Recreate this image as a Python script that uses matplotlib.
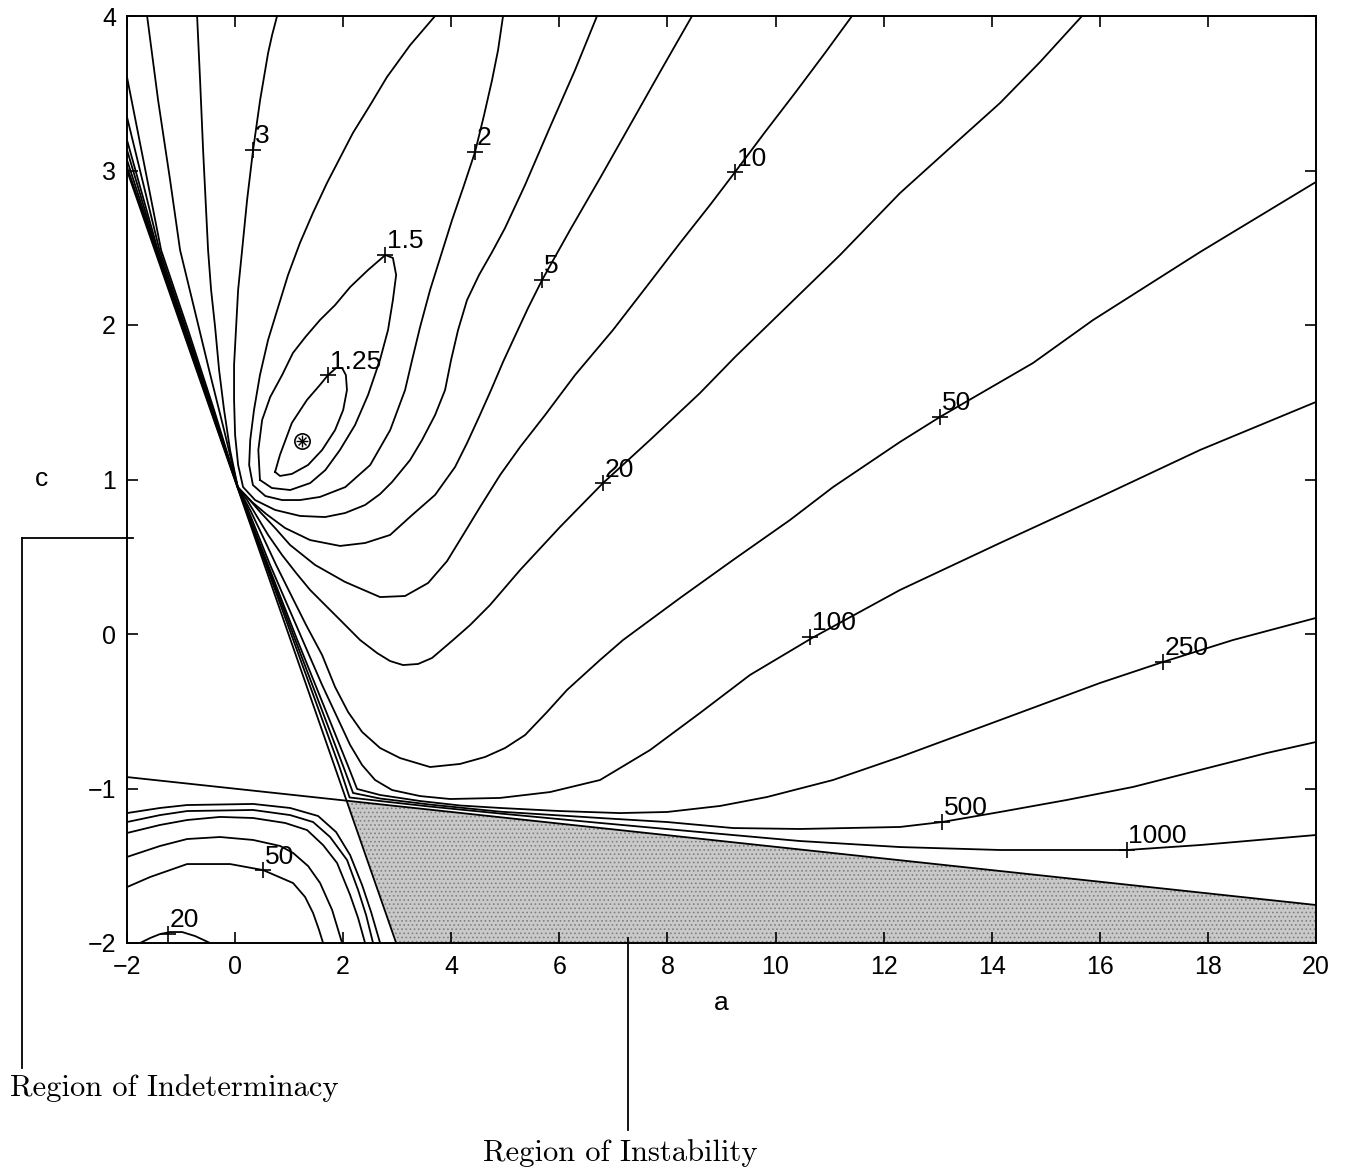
import matplotlib
matplotlib.use("Agg")
import matplotlib.pyplot as plt
from matplotlib.lines import Line2D

plt.rcParams["font.family"] = ["Liberation Sans", "DejaVu Sans"]
plt.rcParams["hatch.linewidth"] = 0.7

# contour traces, as (a, c) pairs.
# every open contour bunches up at P ~ (0.05, 0.95)

lvl125_a = [0.74, 0.83, 1.05, 1.33, 1.57, 1.72, 1.87, 1.98, 2.05, 2.07, 2.00, 1.85, 1.61, 1.35, 1.05, 0.83, 0.74]
lvl125_c = [1.049, 1.159, 1.366, 1.515, 1.612, 1.676, 1.722, 1.722, 1.676, 1.579, 1.450, 1.320, 1.191, 1.094, 1.036, 1.023, 1.049]

lvl15_a = [0.46, 0.43, 0.50, 0.65, 0.87, 1.07, 1.30, 1.57, 1.85, 2.13, 2.46, 2.78, 2.92, 2.98, 2.92, 2.83, 2.68, 2.46, 2.22, 1.94, 1.67, 1.39, 1.02, 0.68, 0.46]
lvl15_c = [0.997, 1.191, 1.385, 1.534, 1.676, 1.819, 1.922, 2.032, 2.129, 2.246, 2.356, 2.453, 2.434, 2.324, 2.162, 1.968, 1.773, 1.547, 1.353, 1.191, 1.061, 0.977, 0.932, 0.945, 0.997]

lvl2_a = [3.70, 3.24, 2.81, 2.50, 2.18, 1.94, 1.70, 1.44, 1.20, 0.98, 0.78, 0.61, 0.46, 0.35, 0.28, 0.26, 0.33, 0.56, 0.87, 1.20, 1.57, 2.04, 2.50, 2.87, 3.145, 3.275, 3.423, 3.608, 3.811, 4.015, 4.237, 4.440, 4.607, 4.755, 4.866, 4.958]
lvl2_c = [4.000, 3.812, 3.605, 3.424, 3.243, 3.081, 2.919, 2.725, 2.531, 2.324, 2.097, 1.903, 1.676, 1.450, 1.256, 1.094, 0.964, 0.893, 0.867, 0.867, 0.887, 0.951, 1.094, 1.320, 1.579, 1.773, 1.987, 2.227, 2.453, 2.680, 2.906, 3.120, 3.359, 3.586, 3.780, 4.000]

lvl3_a = [0.777, 0.685, 0.611, 0.463, 0.333, 0.222, 0.130, 0.056, 0.019, -0.019, -0.019, 0.000, 0.056, 0.148, 0.370, 0.740, 1.203, 1.665, 2.035, 2.405, 2.683, 2.905, 3.238, 3.460, 3.700, 3.885, 3.996, 4.126, 4.292, 4.514, 4.755, 4.995, 5.365, 5.828, 6.290, 6.697]
lvl3_c = [4.000, 3.877, 3.761, 3.456, 3.133, 2.809, 2.485, 2.227, 1.987, 1.741, 1.515, 1.288, 1.094, 0.951, 0.867, 0.803, 0.764, 0.757, 0.783, 0.835, 0.906, 0.984, 1.126, 1.256, 1.417, 1.579, 1.773, 1.968, 2.162, 2.324, 2.472, 2.628, 2.906, 3.282, 3.650, 4.000]

lvl5_a = [-0.703, -0.648, -0.592, -0.500, -0.444, -0.370, -0.296, -0.204, -0.093, 0.05, 0.315, 0.574, 0.925, 1.388, 1.943, 2.405, 2.868, 3.275, 3.700, 4.070, 4.292, 4.514, 4.736, 4.958, 5.180, 5.421, 5.680, 6.198, 6.753, 7.308, 7.863, 8.455]
lvl5_c = [4.000, 3.586, 3.133, 2.485, 2.227, 1.987, 1.709, 1.450, 1.191, 0.95, 0.854, 0.777, 0.686, 0.608, 0.570, 0.589, 0.641, 0.770, 0.900, 1.081, 1.236, 1.405, 1.579, 1.761, 1.929, 2.110, 2.291, 2.615, 2.951, 3.294, 3.638, 4.000]

lvl10_a = [-1.628, -1.425, -1.203, -1.018, -0.740, -0.481, -0.204, 0.05, 0.222, 0.463, 0.740, 1.018, 1.480, 2.035, 2.683, 3.145, 3.571, 3.922, 4.218, 4.533, 4.903, 5.273, 5.735, 6.290, 6.993, 7.678, 8.233, 8.788, 9.251, 9.806, 10.361, 10.916, 11.415]
lvl10_c = [4.000, 3.456, 2.939, 2.485, 2.084, 1.709, 1.320, 0.95, 0.887, 0.790, 0.686, 0.576, 0.447, 0.337, 0.239, 0.246, 0.330, 0.472, 0.641, 0.822, 1.029, 1.210, 1.417, 1.676, 1.968, 2.278, 2.531, 2.777, 2.990, 3.249, 3.502, 3.761, 4.000]

lvl20_a = [-2.0, -1.369, -0.870, -0.389, 0.05, 0.222, 0.389, 0.611, 0.870, 1.129, 1.388, 1.665, 1.943, 2.313, 2.627, 2.868, 3.108, 3.386, 3.645, 4.033, 4.348, 4.718, 5.273, 6.013, 6.808, 7.678, 8.603, 9.251, 9.954, 11.193, 12.303, 13.228, 14.154, 14.894, 15.671]
lvl20_c = [3.605, 2.485, 1.968, 1.450, 0.95, 0.867, 0.770, 0.641, 0.511, 0.395, 0.285, 0.188, 0.091, -0.039, -0.123, -0.175, -0.201, -0.194, -0.155, -0.039, 0.058, 0.188, 0.414, 0.693, 0.977, 1.256, 1.560, 1.793, 2.032, 2.453, 2.854, 3.146, 3.437, 3.702, 4.000]

lvl50_a = [-2.0, -1.40, -0.90, -0.41, 0.05, 0.278, 0.500, 0.759, 1.036, 1.314, 1.610, 1.850, 2.091, 2.350, 2.683, 3.053, 3.608, 4.163, 4.625, 4.995, 5.365, 5.772, 6.142, 6.753, 7.178, 8.233, 9.214, 10.268, 11.064, 12.303, 13.043, 14.764, 15.874, 17.854, 20.0]
lvl50_c = [3.346, 2.485, 1.968, 1.450, 0.95, 0.803, 0.641, 0.447, 0.252, 0.058, -0.136, -0.343, -0.505, -0.634, -0.738, -0.803, -0.861, -0.841, -0.796, -0.738, -0.654, -0.505, -0.362, -0.168, -0.039, 0.233, 0.479, 0.738, 0.951, 1.243, 1.405, 1.754, 2.032, 2.472, 2.926]

lvl100_a = [-2.0, -1.43, -0.92, -0.42, 0.05, 0.241, 0.426, 0.648, 0.888, 1.129, 1.369, 1.610, 1.869, 2.128, 2.350, 2.590, 2.905, 3.423, 3.978, 4.903, 5.828, 6.753, 7.678, 8.603, 9.528, 10.675, 12.303, 14.154, 16.004, 17.854, 20.0]
lvl100_c = [3.197, 2.485, 1.968, 1.450, 0.95, 0.803, 0.641, 0.447, 0.252, 0.058, -0.136, -0.330, -0.524, -0.718, -0.848, -0.945, -1.010, -1.049, -1.068, -1.061, -1.023, -0.945, -0.751, -0.511, -0.265, -0.026, 0.285, 0.589, 0.887, 1.191, 1.502]

lvl250_a = [-2.0, -1.45, -0.94, -0.43, 0.05, 1.151, 2.098, 2.257, 2.683, 3.423, 4.163, 4.903, 6.013, 7.123, 7.993, 8.973, 9.843, 11.064, 12.303, 14.154, 16.004, 17.169, 18.464, 20.0]
lvl250_c = [3.133, 2.485, 1.968, 1.450, 0.95, -0.039, -0.861, -1.003, -1.042, -1.081, -1.110, -1.126, -1.146, -1.159, -1.152, -1.113, -1.055, -0.945, -0.796, -0.557, -0.317, -0.181, -0.039, 0.104]

lvl500_a = [-2.0, -1.46, -0.95, -0.44, 0.05, 1.114, 2.006, 2.183, 2.683, 3.608, 4.903, 6.753, 7.993, 9.214, 10.453, 12.303, 13.081, 14.154, 15.393, 16.614, 17.854, 19.093, 20.0]
lvl500_c = [3.068, 2.485, 1.968, 1.450, 0.95, -0.039, -0.861, -1.029, -1.065, -1.104, -1.150, -1.191, -1.217, -1.256, -1.262, -1.249, -1.217, -1.152, -1.074, -0.990, -0.880, -0.770, -0.699]

lvl1000_a = [-2.0, -1.47, -0.96, -0.445, 0.05, 1.077, 1.932, 2.118, 2.683, 3.608, 4.903, 6.753, 8.603, 10.453, 12.303, 14.154, 16.503, 17.854, 20.0]
lvl1000_c = [3.023, 2.485, 1.968, 1.450, 0.95, -0.039, -0.861, -1.058, -1.081, -1.117, -1.162, -1.223, -1.282, -1.340, -1.379, -1.398, -1.398, -1.366, -1.301]

# lower-left pocket (below the instability line, left of the indeterminacy line)
low1_a = [-2.0, -1.388, -0.888, 0.333, 1.018, 1.536, 1.869, 2.128, 2.350, 2.516, 2.683]
low1_c = [-1.159, -1.126, -1.107, -1.100, -1.126, -1.178, -1.282, -1.431, -1.625, -1.799, -2.0]
low2_a = [-2.0, -1.388, -0.888, 0.333, 1.018, 1.443, 1.758, 2.072, 2.276, 2.424, 2.553]
low2_c = [-1.217, -1.172, -1.146, -1.139, -1.172, -1.217, -1.314, -1.463, -1.657, -1.819, -2.0]
low3_a = [-2.0, -1.388, -0.888, -0.278, 0.333, 0.925, 1.332, 1.628, 1.887, 2.128, 2.276, 2.405]
low3_c = [-1.288, -1.236, -1.204, -1.184, -1.191, -1.223, -1.269, -1.366, -1.482, -1.689, -1.838, -2.0]
low4_a = [-2.0, -1.388, -0.888, -0.278, 0.333, 0.833, 1.073, 1.351, 1.573, 1.795, 1.980]
low4_c = [-1.443, -1.372, -1.327, -1.314, -1.333, -1.372, -1.417, -1.502, -1.612, -1.786, -2.0]
low50_a = [-2.0, -1.573, -0.888, -0.093, 0.518, 1.073, 1.295, 1.443, 1.554, 1.628]
low50_c = [-1.638, -1.573, -1.489, -1.489, -1.528, -1.612, -1.702, -1.806, -1.916, -2.0]
low20_a = [-1.758, -1.573, -1.388, -1.203, -0.981, -0.740, -0.463]
low20_c = [-2.0, -1.968, -1.942, -1.929, -1.929, -1.955, -2.0]

# region boundaries
indet_a = [-2.0, 2.98]
indet_c = [3.0, -2.0]
instab_a = [-2.0, 20.0]
instab_c = [-0.926, -1.754]
shade_a = [2.06, 20.0, 20.0, 2.98]
shade_c = [-1.08, -1.754, -2.0, -2.0]

# contour labels (clabel style: '+' on the line, text up-right)
label_text = ["1.25", "1.5", "2", "3", "5", "10", "20", "50", "100", "250", "500", "1000", "50", "20"]
label_a = [1.72, 2.78, 4.44, 0.333, 5.68, 9.25, 6.81, 13.04, 10.64, 17.17, 13.08, 16.50, 0.52, -1.24]
label_c = [1.676, 2.453, 3.120, 3.133, 2.291, 2.990, 0.977, 1.405, -0.019, -0.181, -1.217, -1.398, -1.528, -1.94]

opt_a, opt_c = 1.24, 1.25

contours = [
    (lvl125_a, lvl125_c), (lvl15_a, lvl15_c), (lvl2_a, lvl2_c), (lvl3_a, lvl3_c),
    (lvl5_a, lvl5_c), (lvl10_a, lvl10_c), (lvl20_a, lvl20_c), (lvl50_a, lvl50_c),
    (lvl100_a, lvl100_c), (lvl250_a, lvl250_c), (lvl500_a, lvl500_c), (lvl1000_a, lvl1000_c),
    (low1_a, low1_c), (low2_a, low2_c), (low3_a, low3_c), (low4_a, low4_c),
    (low50_a, low50_c), (low20_a, low20_c),
]

W, H = 1345, 1173


def fx(px):
    return px / W


def fy(py):
    return 1 - py / H


fig = plt.figure(figsize=(W / 100, H / 100), dpi=100)
ax = fig.add_axes([fx(127), fy(943), (1316 - 127) / W, (943 - 16) / H])

ax.fill(shade_a, shade_c, facecolor="#c9c9c9", edgecolor="#808080", hatch="....", lw=0, zorder=1)
ax.plot(indet_a, indet_c, color="k", lw=1.3, zorder=3)
ax.plot(instab_a, instab_c, color="k", lw=1.3, zorder=3)

for a, c in contours:
    ax.plot(a, c, color="k", lw=1.3, zorder=3)

for t, a, c in zip(label_text, label_a, label_c):
    ax.plot(a, c, marker="+", color="k", ms=11, mew=1.2, zorder=4)
    ax.text(a + 0.03, c + 0.01, t, fontsize=19, ha="left", va="bottom", zorder=5)

ax.plot(opt_a, opt_c, marker="o", mfc="none", mec="k", ms=11, mew=1.2, zorder=4)
ax.plot(opt_a, opt_c, marker="+", color="k", ms=8, mew=1.0, zorder=4)
ax.plot(opt_a, opt_c, marker="x", color="k", ms=6, mew=1.0, zorder=4)

ax.set_xlim(-2, 20)
ax.set_ylim(-2, 4)
ax.set_xticks(range(-2, 21, 2))
ax.set_yticks(range(-2, 5))
ax.tick_params(direction="in", length=8, width=1.2, top=True, right=True, labelsize=18)
ax.tick_params(axis="x", pad=9)
ax.tick_params(axis="y", pad=8)
for s in ax.spines.values():
    s.set_linewidth(1.4)

ax.set_xlabel("a", fontsize=19, labelpad=8)
ax.set_ylabel("c", fontsize=19, rotation=0, ha="center", va="center")
ax.yaxis.set_label_coords(-(127 - 42) / (1316 - 127), 0.5)

# pointers to the two regions
for xs, ys in [([22, 133], [538, 538]), ([22, 22], [538, 1068]), ([628, 628], [938, 1130])]:
    fig.add_artist(Line2D([fx(x) for x in xs], [fy(y) for y in ys], color="k", lw=1.3))

fig.text(fx(10), fy(1088), "Region of Indeterminacy", family="cmr10", fontsize=22, ha="left", va="center")
fig.text(fx(483), fy(1153), "Region of Instability", family="cmr10", fontsize=22, ha="left", va="center")

fig.savefig("out.png", dpi=100)
